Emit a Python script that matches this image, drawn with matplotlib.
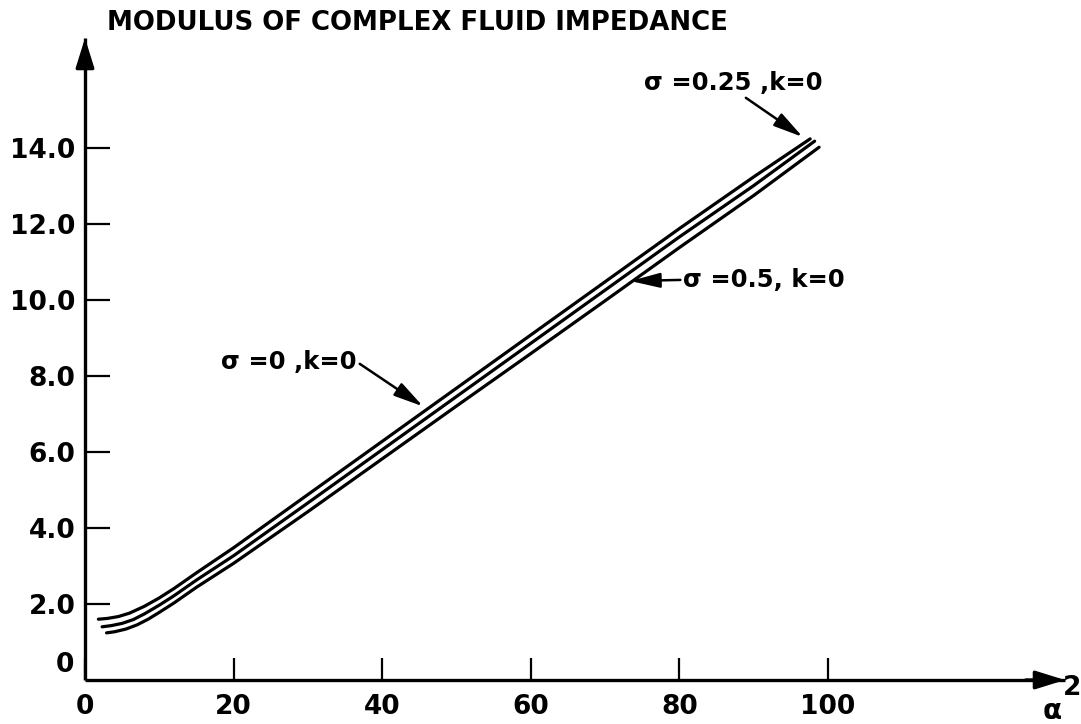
import matplotlib
matplotlib.use("Agg")
import matplotlib.pyplot as plt

# ---- data ----
x_ticks = [0, 20, 40, 60, 80, 100]
x_tick_labels = ["0", "20", "40", "60", "80", "100"]
y_ticks = [2, 4, 6, 8, 10, 12, 14]
y_tick_labels = ["2.0", "4.0", "6.0", "8.0", "10.0", "12.0", "14.0"]

# sigma = 0, k = 0 (top curve)
a2_s0 = [1.8, 3, 4.5, 6, 8, 10, 12, 15, 20, 30, 40, 50, 60, 70, 80, 90, 97.6]
z_s0 = [1.60, 1.62, 1.67, 1.76, 1.94, 2.16, 2.41, 2.82, 3.48, 4.88, 6.28, 7.68,
        9.08, 10.48, 11.88, 13.24, 14.24]
# sigma = 0.25, k = 0 (middle curve)
a2_s025 = [2.3, 3.5, 5, 6.5, 8, 10, 12, 15, 20, 30, 40, 50, 60, 70, 80, 90, 98.2]
z_s025 = [1.40, 1.43, 1.49, 1.59, 1.74, 1.97, 2.22, 2.63, 3.27, 4.66, 6.06, 7.46,
          8.86, 10.26, 11.66, 13.01, 14.18]
# sigma = 0.5, k = 0 (bottom curve)
a2_s05 = [2.9, 4, 5.5, 7, 8.5, 10, 12, 15, 20, 30, 40, 50, 60, 70, 80, 90, 98.8]
z_s05 = [1.24, 1.27, 1.34, 1.45, 1.60, 1.78, 2.03, 2.44, 3.07, 4.43, 5.82, 7.21,
         8.59, 9.98, 11.38, 12.75, 14.02]

title = "MODULUS OF COMPLEX FLUID IMPEDANCE"
lab_s0 = "σ =0 ,k=0"
lab_s025 = "σ =0.25 ,k=0"
lab_s05 = "σ =0.5, k=0"

W, H = 1081, 724
fig = plt.figure(figsize=(W / 100, H / 100), dpi=100)
fig.patch.set_facecolor("white")
ax = fig.add_axes([85 / W, (H - 680) / H, (1065 - 85) / W, (680 - 38) / H])
ax.set_xlim(0, (1065 - 85) / 7.43)
ax.set_ylim(0, (680 - 38) / 38.0)

font = dict(family="DejaVu Sans", weight="bold")

for xs, ys in [(a2_s0, z_s0), (a2_s025, z_s025), (a2_s05, z_s05)]:
    ax.plot(xs, ys, color="black", lw=2.3, solid_capstyle="round", solid_joinstyle="round")

# axes spines
for s in ["top", "right"]:
    ax.spines[s].set_visible(False)
for s in ["left", "bottom"]:
    ax.spines[s].set_linewidth(2.4)
    ax.spines[s].set_capstyle("butt")

# arrow heads on axes
head = dict(arrowstyle="-|>,head_length=0.9,head_width=0.28", color="black",
            lw=2.4, shrinkA=0, shrinkB=0, mutation_scale=20)
ax.annotate("", xy=(0, 1), xycoords="axes fraction", xytext=(0, 0.96),
            textcoords="axes fraction", arrowprops=head)
ax.annotate("", xy=(1, 0), xycoords="axes fraction", xytext=(0.96, 0),
            textcoords="axes fraction", arrowprops=head)

ax.set_xticks(x_ticks)
ax.set_xticklabels(x_tick_labels, fontsize=19, **font)
ax.set_yticks(y_ticks)
ax.set_yticklabels(y_tick_labels, fontsize=19, **font)
ax.tick_params(axis="x", direction="in", length=16, width=1.6, pad=10)
ax.tick_params(axis="y", direction="in", length=18, width=1.6, pad=7)

# zero label on y axis (sits above the x axis)
ax.annotate("0", xy=(0, 0), xytext=(-8, 11), textcoords="offset points",
            ha="right", va="center", fontsize=19, **font)

# x axis label alpha^2
ax.annotate("α", xy=(1, 0), xycoords="axes fraction", xytext=(-9, -22),
            textcoords="offset points", ha="center", va="center", fontsize=20, **font)
ax.annotate("2", xy=(1, 0), xycoords="axes fraction", xytext=(5, -6),
            textcoords="offset points", ha="center", va="center", fontsize=19, **font)

# title
ax.text(2.96, 17.3, title, ha="left", va="center", fontsize=18.7, clip_on=False, **font)

arrow = dict(arrowstyle="-|>,head_length=1.0,head_width=0.25", color="black",
             lw=1.8, shrinkA=0, shrinkB=0, mutation_scale=18)
ax.annotate(lab_s025, xy=(96.6, 14.29), xytext=(87.2, 15.71), ha="center", va="center",
            fontsize=17.5, annotation_clip=False, **font,
            arrowprops=dict(**arrow, relpos=(0.55, 0.0)))
ax.annotate(lab_s05, xy=(73.4, 10.5), xytext=(80.5, 10.53), ha="left", va="center",
            fontsize=17.5, annotation_clip=False, **font,
            arrowprops=dict(**arrow, relpos=(0.0, 0.5)))
ax.annotate(lab_s0, xy=(45.5, 7.2), xytext=(36.6, 8.37), ha="right", va="center",
            fontsize=17.5, annotation_clip=False, **font,
            arrowprops=dict(**arrow, relpos=(1.0, 0.5)))

fig.savefig("out.png", dpi=100, facecolor="white")
